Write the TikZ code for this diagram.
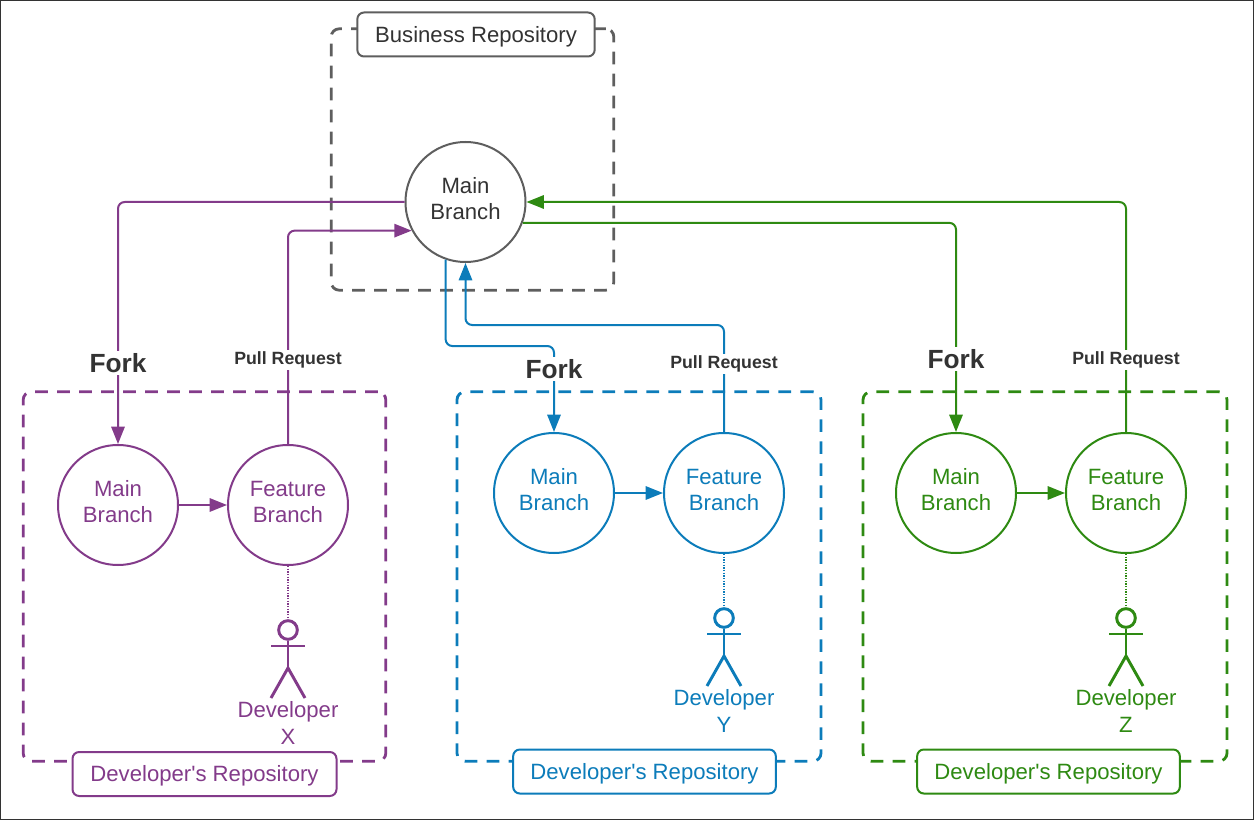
\documentclass[tikz,border=0pt]{standalone}
\usepackage{fontspec}
\setmainfont{Liberation Sans}[Ligatures=TeXOff]
\usetikzlibrary{positioning,arrows.meta}
\definecolor{grayrepo}{HTML}{5E5E5E}
\definecolor{darktext}{HTML}{333333}
\definecolor{purplerepo}{HTML}{833B8A}
\definecolor{bluerepo}{HTML}{0C7CBA}
\definecolor{greenrepo}{HTML}{2E8A12}
\tikzset{>={Triangle[length=13pt,width=10pt]}}
\tikzset{
  tone/.style={draw=#1,text=#1},
  branch/.style={circle,line width=1.5pt,fill=white,minimum size=90pt,inner sep=0pt,align=center,text depth=5pt,font=\fontsize{16.6}{19.9}\selectfont},
  repo/.style={line width=2.1pt,dash pattern=on 9.5pt off 7pt,rounded corners=6pt,inner sep=0pt},
  repolabel/.style={line width=1.5pt,fill=white,rounded corners=5pt,minimum height=33pt,inner sep=0pt,text height=15pt,text depth=3.5pt,font=\fontsize{16.6}{19.9}\selectfont},
  link/.style={line width=1.5pt,rounded corners=5pt,->},
  forklabel/.style={fill=white,text=darktext,inner sep=1.5pt,font=\fontsize{19.7}{23}\selectfont\bfseries},
  pulllabel/.style={fill=white,text=darktext,inner sep=1.5pt,font=\fontsize{13.3}{16}\selectfont\bfseries},
  devname/.style={align=center,inner sep=0pt,font=\fontsize{16.6}{19.9}\selectfont},
  actor/.pic={
    \node[circle,draw,line width=2.2pt,minimum size=14pt,inner sep=0pt] (head) at (0,0) {};
    \draw[line width=2.2pt] (head.south) -- (0,38);
    \draw[line width=2.2pt] (-17,16) -- (17,16);
    \draw[line width=2.2pt] (-17,68) -- (0,38) -- (17,68);
  }
}
\begin{document}
\begin{tikzpicture}[x=0.75pt,y=-0.75pt]
\useasboundingbox (0,0) rectangle (1254,820);
\draw[darktext,line width=0.9pt] (0.6,0.6) rectangle (1253.4,819.4);
% repositories
\node[repo,draw=grayrepo,minimum width=212pt,minimum height=196pt] (repoB) at (472.5,159.5) {};
\node[repo,draw=purplerepo,minimum width=272pt,minimum height=277pt] (repoX) at (204.5,576.5) {};
\node[repo,draw=bluerepo,minimum width=273pt,minimum height=277pt] (repoY) at (639,576.5) {};
\node[repo,draw=greenrepo,minimum width=273pt,minimum height=277pt] (repoZ) at (1045,576.5) {};
\node[repolabel,draw=grayrepo,text=darktext,minimum width=178pt] (labelB) at (476,34.5) {Business Repository};
\node[repolabel,tone=purplerepo,minimum width=198pt] (labelX) at (204.5,774) {Developer's Repository};
\node[repolabel,tone=bluerepo,minimum width=197pt] (labelY) at (644.5,771.5) {Developer's Repository};
\node[repolabel,tone=greenrepo,minimum width=197pt] (labelZ) at (1048.5,771.5) {Developer's Repository};
% branches
\node[branch,draw=grayrepo,text=darktext] (mainB) at (465.5,202) {Main\\Branch};
\node[branch,tone=purplerepo] (mainX) at (118,505) {Main\\Branch};
\node[branch,tone=purplerepo] (featX) at (288,505) {Feature\\Branch};
\node[branch,tone=bluerepo] (mainY) at (554,493) {Main\\Branch};
\node[branch,tone=bluerepo] (featY) at (724,493) {Feature\\Branch};
\node[branch,tone=greenrepo] (mainZ) at (956,493) {Main\\Branch};
\node[branch,tone=greenrepo] (featZ) at (1126,493) {Feature\\Branch};
\coordinate (forkY) at (500,346);
\coordinate (pullY) at (600,325);
% purple
\draw[link,purplerepo] (mainB.west) -| (mainX.north);
\draw[link,purplerepo] (featX.north) |- (mainB.208);
\draw[link,purplerepo] (mainX) -- (featX);
% blue
\draw[link,bluerepo] (mainB.251) |- (forkY) -| (mainY.north);
\draw[link,bluerepo] (featY.north) |- (pullY) -| (mainB.south);
\draw[link,bluerepo] (mainY) -- (featY);
% green
\draw[link,greenrepo] (mainB.-20) -| (mainZ.north);
\draw[link,greenrepo] (featZ.north) |- (mainB.east);
\draw[link,greenrepo] (mainZ) -- (featZ);
% labels on the links
\node[forklabel] (forkXl) at (118,363) {Fork};
\node[forklabel] (forkYl) at (554,369) {Fork};
\node[forklabel] (forkZl) at (956,359) {Fork};
\node[pulllabel] (pullXl) at (288,360) {Pull Request};
\node[pulllabel] (pullYl) at (724,364) {Pull Request};
\node[pulllabel] (pullZl) at (1126,360) {Pull Request};
% developers
\pic[color=purplerepo] (actX) at (288,630) {actor};
\pic[color=bluerepo] (actY) at (724,618) {actor};
\pic[color=greenrepo] (actZ) at (1126,618) {actor};
\draw[purplerepo,line width=1pt,densely dotted] (featX.south) -- (actXhead.north);
\draw[bluerepo,line width=1pt,densely dotted] (featY.south) -- (actYhead.north);
\draw[greenrepo,line width=1pt,densely dotted] (featZ.south) -- (actZhead.north);
\node[devname,text=purplerepo] (devX) at (288,723) {Developer\\X};
\node[devname,text=bluerepo] (devY) at (724,711) {Developer\\Y};
\node[devname,text=greenrepo] (devZ) at (1126,711) {Developer\\Z};
\end{tikzpicture}
\end{document}
